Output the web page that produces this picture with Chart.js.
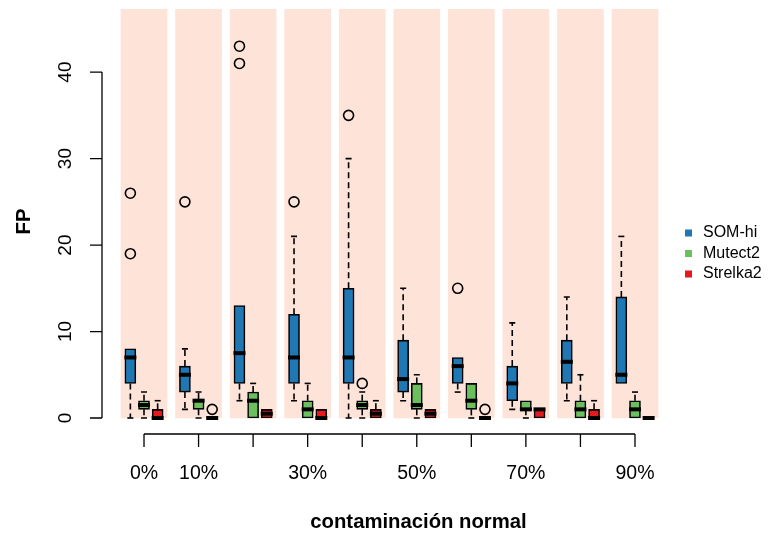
<!DOCTYPE html>
<html lang="es">
<head>
    <meta charset="UTF-8">
    <title>FP por contaminación normal</title>
    <style>
        body { margin: 0; background: #fff; }
        canvas { display: block; }
    </style>
</head>
<body>
    <canvas id="fpChart" width="768" height="535"></canvas>
    <script src="https://cdn.jsdelivr.net/npm/chart.js"></script>
    <script>
    // Categories and tick labels (R skipped the ones that would overlap)
    const groups = ['0%', '10%', '20%', '30%', '40%', '50%', '60%', '70%', '80%', '90%'];
    const tickLabels = ['0%', '10%', '', '30%', '', '50%', '', '70%', '', '90%'];
    const yTicks = [0, 10, 20, 30, 40];

    // SOM-hi box stats: whisker low, Q1, median, Q3, whisker high, outliers
    const somLo  = [0, 1, 2, 2, 0, 2, 3, 1, 2, 4];
    const somQ1  = [4, 3, 4, 4, 4, 3, 4, 2, 4, 4];
    const somMed = [7, 5, 7.5, 7, 7, 4.5, 6, 4, 6.5, 5];
    const somQ3  = [8, 6, 13, 12, 15, 9, 7, 6, 9, 14];
    const somHi  = [8, 8, 13, 21, 30, 15, 7, 11, 14, 21];
    const somOut = [[19, 26], [25], [41, 43], [25], [35], [], [15], [], [], []];

    // Mutect2
    const mutLo  = [0, 0, 0, 0, 0, 0, 0, 0, 0, 0];
    const mutQ1  = [1, 1, 0, 0, 1, 1, 1, 1, 0, 0];
    const mutMed = [1.5, 2, 2, 1, 1.5, 1.5, 2, 1, 1, 1];
    const mutQ3  = [2, 2.2, 3, 2, 2, 4, 4, 2, 2, 2];
    const mutHi  = [3, 3, 4, 4, 3, 5, 4, 2, 5, 3];
    const mutOut = [[], [], [], [], [4], [], [], [], [], []];

    // Strelka2
    const strLo  = [0, 0, 0, 0, 0, 0, 0, 0, 0, 0];
    const strQ1  = [0, 0, 0, 0, 0, 0, 0, 0, 0, 0];
    const strMed = [0, 0, 0.5, 0, 0.5, 0.5, 0, 1, 0, 0];
    const strQ3  = [1, 0, 1, 1, 1, 1, 0, 1, 1, 0];
    const strHi  = [2, 0, 1, 1, 2, 1, 0, 1, 2, 0];
    const strOut = [[], [1], [], [], [], [], [1], [], [], []];

    const bandTop = 47.3;
    const font = "'Liberation Sans', Arial, sans-serif";

    const series = [
        { name: 'SOM-hi',   color: '#1f77b4', shift: -0.25, lo: somLo, q1: somQ1, med: somMed, q3: somQ3, hi: somHi, out: somOut },
        { name: 'Mutect2',  color: '#6cbf5f', shift: 0,     lo: mutLo, q1: mutQ1, med: mutMed, q3: mutQ3, hi: mutHi, out: mutOut },
        { name: 'Strelka2', color: '#e41a1c', shift: 0.25,  lo: strLo, q1: strQ1, med: strMed, q3: strQ3, hi: strHi, out: strOut }
    ];

    // Build datasets: background bands, floating bars for the boxes, scatter for outliers
    const datasets = [];
    datasets.push({
        type: 'bar',
        data: groups.map((g, i) => ({ x: i + 1, y: [0, bandTop] })),
        backgroundColor: '#fde3d8',
        borderWidth: 0,
        barThickness: 46,
        grouped: false,
        order: 10
    });
    series.forEach(s => {
        datasets.push({
            type: 'bar',
            label: s.name,
            data: groups.map((g, i) => ({ x: i + 1 + s.shift, y: [s.q1[i], s.q3[i]] })),
            backgroundColor: s.color,
            borderColor: '#000',
            borderWidth: 1.6,
            borderSkipped: false,
            barThickness: 11,
            grouped: false,
            order: 5
        });
    });
    const outPoints = [];
    series.forEach(s => {
        s.out.forEach((vals, i) => vals.forEach(v => outPoints.push({ x: i + 1 + s.shift, y: v })));
    });
    datasets.push({
        type: 'scatter',
        data: outPoints,
        pointStyle: 'circle',
        pointRadius: 5,
        borderColor: '#000',
        borderWidth: 1.6,
        backgroundColor: 'rgba(0,0,0,0)',
        order: 0
    });

    // Whiskers, caps, medians, axes, labels and legend in R style
    const rBoxPlot = {
        id: 'rBoxPlot',
        afterDatasetsDraw(chart) {
            const ctx = chart.ctx;
            const x = chart.scales.x, y = chart.scales.y;
            const area = chart.chartArea;
            ctx.save();
            ctx.strokeStyle = '#000';
            ctx.fillStyle = '#000';
            series.forEach(s => {
                groups.forEach((g, i) => {
                    const cx = x.getPixelForValue(i + 1 + s.shift);
                    const yLo = y.getPixelForValue(s.lo[i]);
                    const yQ1 = y.getPixelForValue(s.q1[i]);
                    const yQ3 = y.getPixelForValue(s.q3[i]);
                    const yHi = y.getPixelForValue(s.hi[i]);
                    ctx.lineWidth = 1.6;
                    ctx.setLineDash([6, 4]);
                    ctx.beginPath();
                    if (s.hi[i] > s.q3[i]) { ctx.moveTo(cx, yQ3); ctx.lineTo(cx, yHi); }
                    if (s.lo[i] < s.q1[i]) { ctx.moveTo(cx, yQ1); ctx.lineTo(cx, yLo); }
                    ctx.stroke();
                    ctx.setLineDash([]);
                    ctx.beginPath();
                    if (s.hi[i] > s.q3[i]) { ctx.moveTo(cx - 3, yHi); ctx.lineTo(cx + 3, yHi); }
                    if (s.lo[i] < s.q1[i]) { ctx.moveTo(cx - 3, yLo); ctx.lineTo(cx + 3, yLo); }
                    ctx.stroke();
                    // median
                    const yMed = y.getPixelForValue(s.med[i]);
                    ctx.lineWidth = 4;
                    ctx.beginPath();
                    ctx.moveTo(cx - 6, yMed);
                    ctx.lineTo(cx + 6, yMed);
                    ctx.stroke();
                });
            });

            // y axis
            ctx.lineWidth = 1.3;
            ctx.beginPath();
            ctx.moveTo(area.left, y.getPixelForValue(yTicks[0]));
            ctx.lineTo(area.left, y.getPixelForValue(yTicks[yTicks.length - 1]));
            yTicks.forEach(t => {
                const py = y.getPixelForValue(t);
                ctx.moveTo(area.left, py);
                ctx.lineTo(area.left - 12, py);
            });
            ctx.stroke();
            ctx.font = '19px ' + font;
            ctx.textAlign = 'center';
            ctx.textBaseline = 'middle';
            yTicks.forEach(t => {
                ctx.save();
                ctx.translate(66, y.getPixelForValue(t));
                ctx.rotate(-Math.PI / 2);
                ctx.fillText(String(t), 0, 0);
                ctx.restore();
            });

            // x axis
            const ax = area.bottom;
            ctx.beginPath();
            ctx.moveTo(x.getPixelForValue(1), ax);
            ctx.lineTo(x.getPixelForValue(groups.length), ax);
            groups.forEach((g, i) => {
                const px = x.getPixelForValue(i + 1);
                ctx.moveTo(px, ax);
                ctx.lineTo(px, ax + 13);
            });
            ctx.stroke();
            ctx.font = '19.5px ' + font;
            tickLabels.forEach((lab, i) => {
                if (lab) ctx.fillText(lab, x.getPixelForValue(i + 1), 474);
            });

            // axis titles (R centres them on its wider plot region, legend included)
            ctx.font = 'bold 20.3px ' + font;
            ctx.fillText('contaminación normal', 418.5, 522);
            ctx.save();
            ctx.translate(24, (area.top + area.bottom) / 2);
            ctx.rotate(-Math.PI / 2);
            ctx.fillText('FP', 0, 0);
            ctx.restore();

            // legend
            ctx.font = '16px ' + font;
            ctx.textAlign = 'left';
            series.forEach((s, k) => {
                const ly = 233 + k * 20.5;
                ctx.fillStyle = s.color;
                ctx.fillRect(685, ly - 3.5, 7, 7);
                ctx.fillStyle = '#000';
                ctx.fillText(s.name, 703, ly);
            });
            ctx.restore();
        }
    };

    new Chart(document.getElementById('fpChart'), {
        type: 'bar',
        data: { datasets: datasets },
        options: {
            responsive: false,
            animation: false,
            events: [],
            layout: { padding: { left: 102, top: 9, right: 91, bottom: 101 } },
            plugins: { legend: { display: false }, tooltip: { enabled: false } },
            scales: {
                x: { type: 'linear', min: 0.23, max: 10.77, offset: false, display: false },
                y: { type: 'linear', min: -1.85, max: bandTop, display: false }
            }
        },
        plugins: [rBoxPlot]
    });
    </script>
</body>
</html>
